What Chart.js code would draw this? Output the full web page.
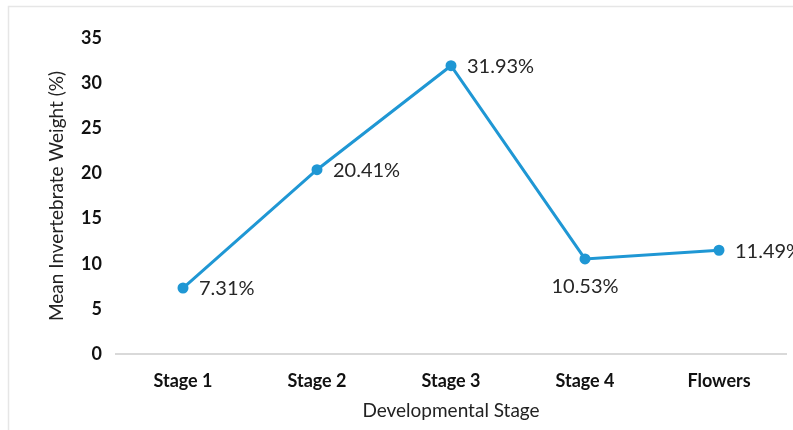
<!DOCTYPE html>
<html>
<head>
<meta charset="utf-8">
<script src="https://cdn.jsdelivr.net/npm/chart.js@4.4.1/dist/chart.umd.min.js"></script>
<style>
  html, body { margin: 0; padding: 0; background: #fff; }
  #wrap { width: 793px; height: 430px; position: relative; }
</style>
</head>
<body>
<div id="wrap"><canvas id="myChart" width="793" height="430"></canvas></div>
<script>
'use strict';

const stages = ['Stage 1', 'Stage 2', 'Stage 3', 'Stage 4', 'Flowers'];
const weights = [7.31, 20.41, 31.93, 10.53, 11.49];
const labelSide = ['right', 'right', 'right', 'below', 'right'];
const yTicks = [0, 5, 10, 15, 20, 25, 30, 35];

const lineColor = '#1f97d4';
const fontName = 'Lato, "Noto Sans", sans-serif';

// frame + white background
const framePlugin = {
  id: 'frame',
  beforeDraw(chart) {
    const ctx = chart.ctx;
    ctx.save();
    ctx.fillStyle = '#fff';
    ctx.fillRect(0, 0, chart.width, chart.height);
    ctx.strokeStyle = '#e6e6e6';
    ctx.lineWidth = 1.5;
    ctx.strokeRect(8.5, 6.5, chart.width + 20, chart.height + 20);
    ctx.restore();
  }
};

// percent labels next to each point
const valueLabels = {
  id: 'valueLabels',
  afterDatasetsDraw(chart) {
    const ctx = chart.ctx;
    const meta = chart.getDatasetMeta(0);
    ctx.save();
    ctx.font = '20px ' + fontName;
    ctx.fillStyle = '#262626';
    meta.data.forEach(function (pt, i) {
      const txt = weights[i].toFixed(2) + '%';
      ctx.textBaseline = 'middle';
      if (labelSide[i] === 'below') {
        ctx.textAlign = 'center';
        ctx.fillText(txt, pt.x, pt.y + 28);
      } else {
        ctx.textAlign = 'left';
        ctx.fillText(txt, pt.x + 16, pt.y + 1);
      }
    });
    ctx.restore();
  }
};

const ctx = document.getElementById('myChart').getContext('2d');
new Chart(ctx, {
  type: 'line',
  data: {
    labels: stages,
    datasets: [{
      data: weights,
      borderColor: lineColor,
      backgroundColor: lineColor,
      borderWidth: 3,
      pointRadius: 4,
      pointHoverRadius: 4,
      tension: 0
    }]
  },
  options: {
    responsive: false,
    animation: false,
    layout: { padding: { left: 0, right: 7, top: 38, bottom: 0 } },
    plugins: {
      legend: { display: false },
      tooltip: { enabled: false }
    },
    scales: {
      x: {
        offset: true,
        grid: { display: false, drawTicks: false },
        border: { display: true, color: '#d9d9d9', width: 2 },
        ticks: {
          padding: 16,
          color: '#111',
          font: { family: fontName, size: 18, weight: 'bold' }
        },
        title: {
          display: true,
          text: 'Developmental Stage',
          color: '#222',
          font: { family: fontName, size: 19 },
          padding: { top: 0, bottom: 8 }
        },
        afterFit(scale) { scale.height = 76; }
      },
      y: {
        min: 0,
        max: 35,
        grid: { display: false, drawTicks: false },
        border: { display: false },
        afterBuildTicks(scale) {
          scale.ticks = yTicks.map(function (v) { return { value: v }; });
        },
        ticks: {
          padding: 14,
          color: '#111',
          font: { family: fontName, size: 18, weight: 'bold' }
        },
        title: {
          display: true,
          text: 'Mean Invertebrate Weight (%)',
          color: '#222',
          font: { family: fontName, size: 19 },
          padding: { top: 45, bottom: 0 }
        },
        afterFit(scale) { scale.width = 116; }
      }
    }
  },
  plugins: [framePlugin, valueLabels]
});
</script>
</body>
</html>
